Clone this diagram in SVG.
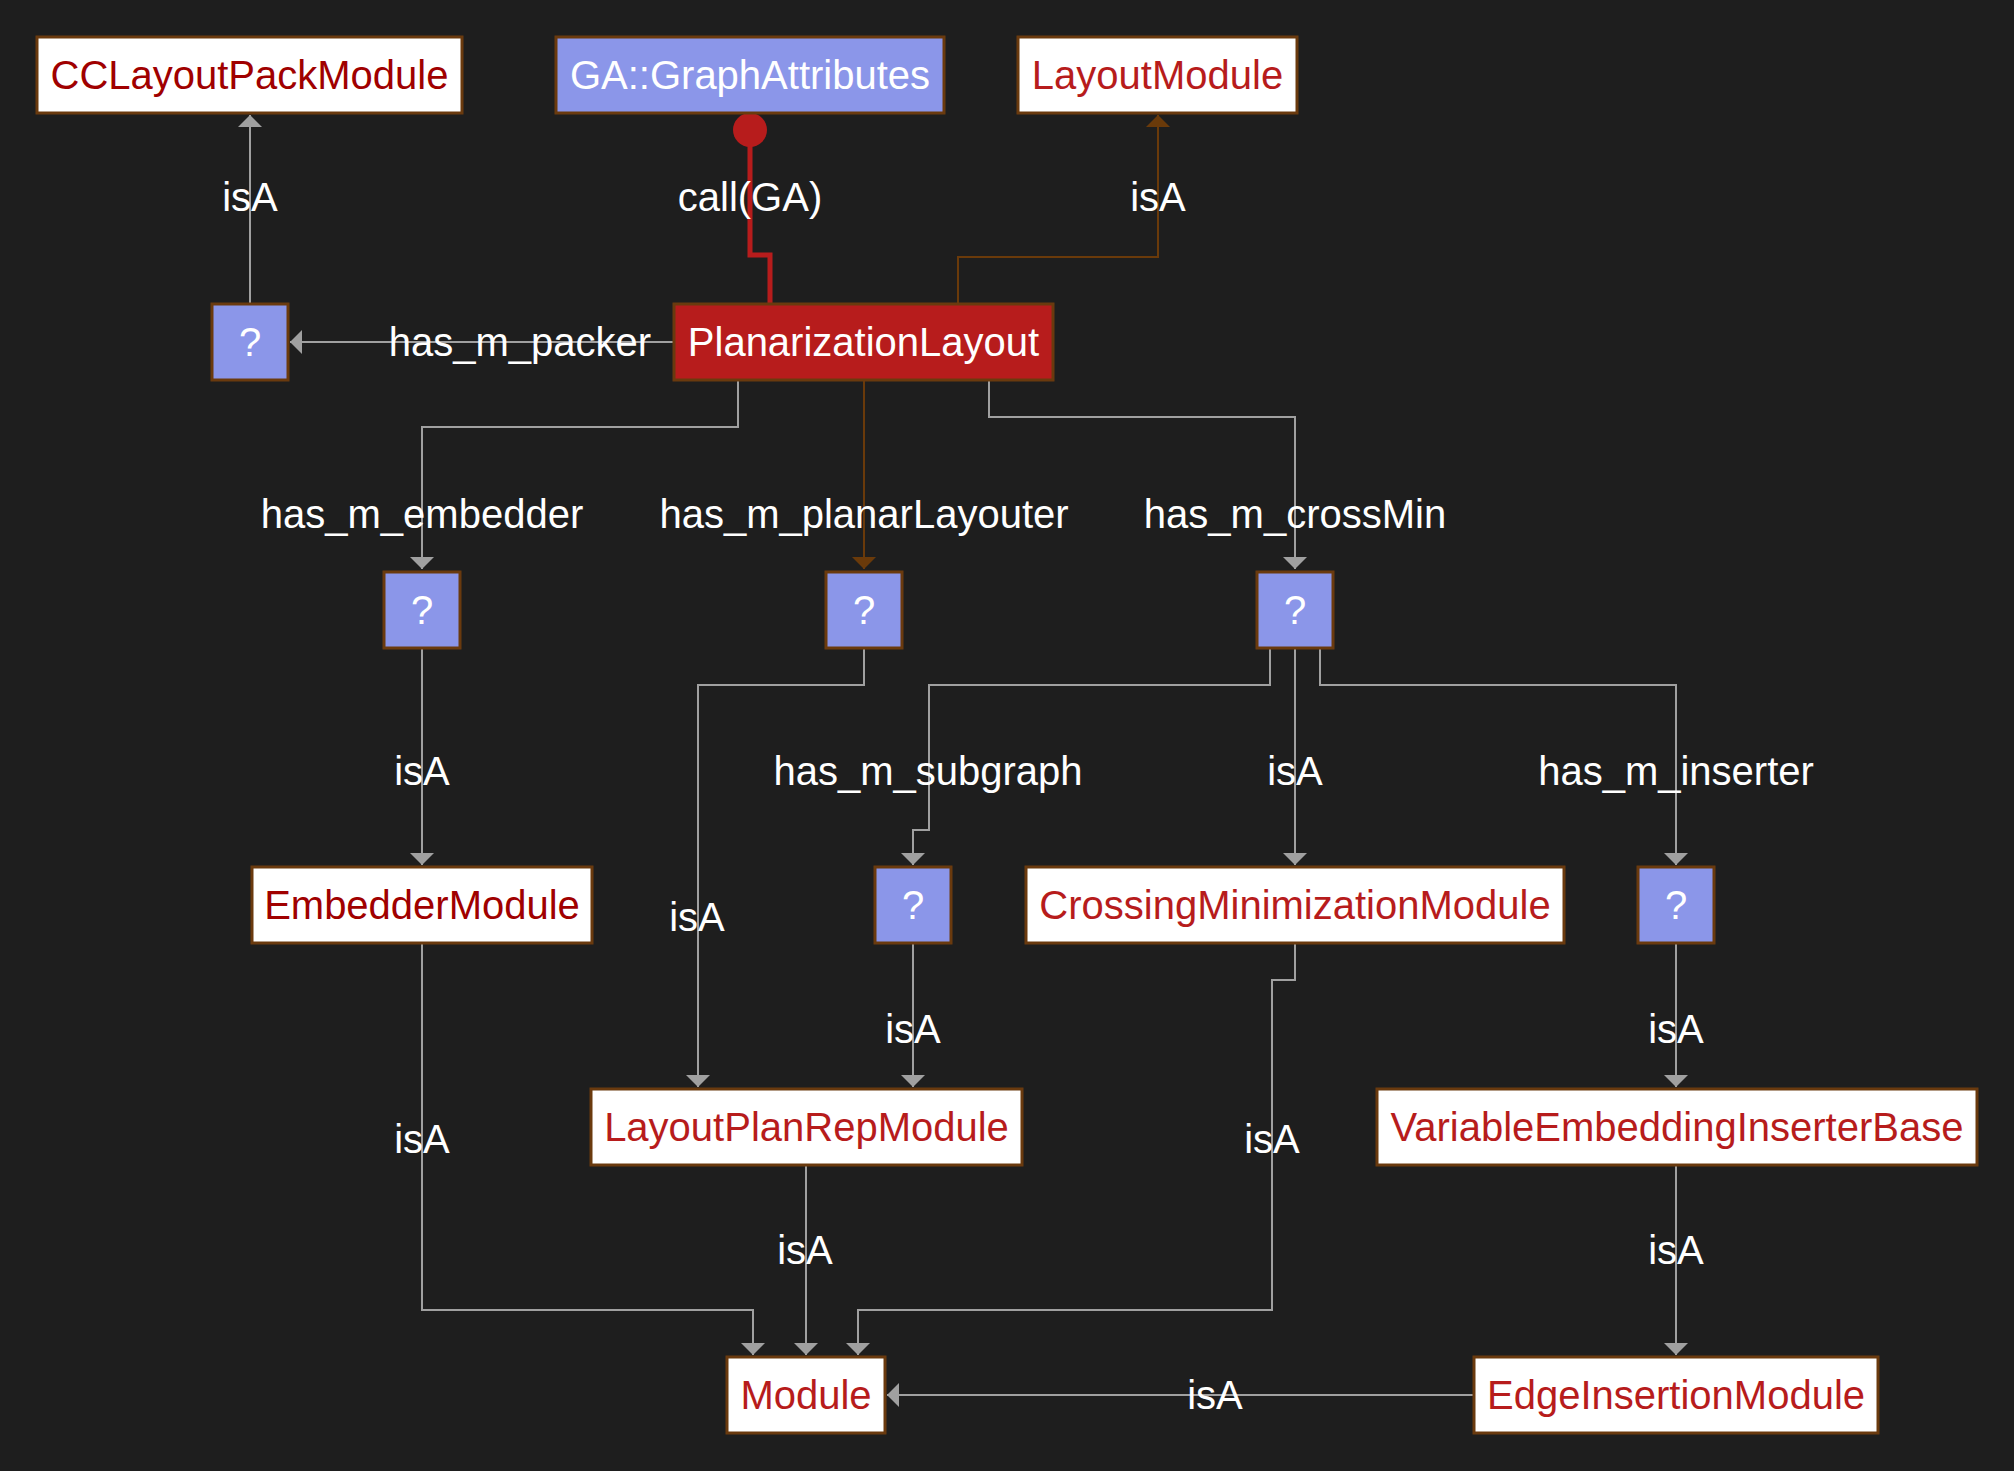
<svg xmlns="http://www.w3.org/2000/svg" width="2014" height="1471" viewBox="0 0 2014 1471">
<style>
text{font-family:"Liberation Sans",Arial,sans-serif;font-size:40px;text-anchor:middle}
.nb rect{stroke:#6a3a0e;stroke-width:3}
.w rect{fill:#ffffff}
.b rect{fill:#8b96e9}
.r rect{fill:#b71c1c}
.w text{fill:#b71c1c}
.w text.d{fill:#a00000}
.b text,.r text{fill:#ffffff}
.e{fill:none;stroke:#a0a0a0;stroke-width:2}
.eb{fill:none;stroke:#6a3a0a;stroke-width:2}
.lbl text{fill:#ffffff}
</style>
<defs>
<marker id="ag" markerUnits="userSpaceOnUse" markerWidth="12" markerHeight="24" refX="12" refY="12" orient="auto"><path d="M0,0 L12,12 L0,24 z" fill="#a0a0a0"/></marker>
<marker id="ab" markerUnits="userSpaceOnUse" markerWidth="12" markerHeight="24" refX="12" refY="12" orient="auto"><path d="M0,0 L12,12 L0,24 z" fill="#6a3a0a"/></marker>
</defs>
<rect x="0" y="0" width="2014" height="1471" fill="#1e1e1e"/>
<g id="connectors">
<path class="e" d="M250,304 V115" marker-end="url(#ag)"/>
<path class="e" d="M674,342 H290" marker-end="url(#ag)"/>
<path class="e" d="M738,380 V427 H422 V569" marker-end="url(#ag)"/>
<path class="e" d="M989,380 V417 H1295 V569" marker-end="url(#ag)"/>
<path class="e" d="M422,648 V865" marker-end="url(#ag)"/>
<path class="e" d="M864,648 V685 H698 V1087" marker-end="url(#ag)"/>
<path class="e" d="M1270,648 V685 H929 V830 H913 V865" marker-end="url(#ag)"/>
<path class="e" d="M1295,648 V865" marker-end="url(#ag)"/>
<path class="e" d="M1320,648 V685 H1676 V865" marker-end="url(#ag)"/>
<path class="e" d="M913,943 V1087" marker-end="url(#ag)"/>
<path class="e" d="M1676,943 V1087" marker-end="url(#ag)"/>
<path class="e" d="M422,943 V1310 H753 V1355" marker-end="url(#ag)"/>
<path class="e" d="M806,1165 V1355" marker-end="url(#ag)"/>
<path class="e" d="M1295,943 V980 H1272 V1310 H858 V1355" marker-end="url(#ag)"/>
<path class="e" d="M1676,1165 V1355" marker-end="url(#ag)"/>
<path class="e" d="M1474,1395 H887" marker-end="url(#ag)"/>
<path class="eb" d="M958,304 V257 H1158 V115" marker-end="url(#ab)"/>
<path class="eb" d="M864,380 V569" marker-end="url(#ab)"/>
<circle cx="750" cy="130" r="17" fill="#b71c1c"/>
<path d="M750,140 V255 H770 V304" fill="none" stroke="#b71c1c" stroke-width="5"/>
<g class="lbl">
<text x="250" y="211">isA</text>
<text x="750" y="211">call(GA)</text>
<text x="1158" y="211">isA</text>
<text x="520" y="356">has_m_packer</text>
<text x="422" y="528">has_m_embedder</text>
<text x="864" y="528">has_m_planarLayouter</text>
<text x="1295" y="528">has_m_crossMin</text>
<text x="422" y="785">isA</text>
<text x="928" y="785">has_m_subgraph</text>
<text x="1295" y="785">isA</text>
<text x="1676" y="785">has_m_inserter</text>
<text x="697" y="931">isA</text>
<text x="913" y="1043">isA</text>
<text x="1676" y="1043">isA</text>
<text x="422" y="1153">isA</text>
<text x="1272" y="1153">isA</text>
<text x="805" y="1264">isA</text>
<text x="1676" y="1264">isA</text>
<text x="1215" y="1409">isA</text>
</g>
</g>
<g id="n_cclayoutpack" class="nb w"><rect x="37" y="37" width="425" height="76"/><text class="d" x="249.5" y="89">CCLayoutPackModule</text></g>
<g id="n_ga" class="nb b"><rect x="556" y="37" width="388" height="76"/><text x="750" y="89">GA::GraphAttributes</text></g>
<g id="n_layoutmodule" class="nb w"><rect x="1018" y="37" width="279" height="76"/><text x="1157.5" y="89">LayoutModule</text></g>
<g id="n_planarization" class="nb r"><rect x="674" y="304" width="379" height="76"/><text x="863.5" y="356">PlanarizationLayout</text></g>
<g id="n_q_packer" class="nb b"><rect x="212" y="304" width="76" height="76"/><text x="250" y="356">?</text></g>
<g id="n_q_embedder" class="nb b"><rect x="384" y="572" width="76" height="76"/><text x="422" y="624">?</text></g>
<g id="n_q_planar" class="nb b"><rect x="826" y="572" width="76" height="76"/><text x="864" y="624">?</text></g>
<g id="n_q_crossmin" class="nb b"><rect x="1257" y="572" width="76" height="76"/><text x="1295" y="624">?</text></g>
<g id="n_embeddermodule" class="nb w"><rect x="252" y="867" width="340" height="76"/><text class="d" x="422" y="919">EmbedderModule</text></g>
<g id="n_q_subgraph" class="nb b"><rect x="875" y="867" width="76" height="76"/><text x="913" y="919">?</text></g>
<g id="n_crossingmin" class="nb w"><rect x="1026" y="867" width="538" height="76"/><text x="1295" y="919">CrossingMinimizationModule</text></g>
<g id="n_q_inserter" class="nb b"><rect x="1638" y="867" width="76" height="76"/><text x="1676" y="919">?</text></g>
<g id="n_layoutplanrep" class="nb w"><rect x="591" y="1089" width="431" height="76"/><text x="806.5" y="1141">LayoutPlanRepModule</text></g>
<g id="n_varembins" class="nb w"><rect x="1377" y="1089" width="600" height="76"/><text x="1677" y="1141">VariableEmbeddingInserterBase</text></g>
<g id="n_module" class="nb w"><rect x="727" y="1357" width="158" height="76"/><text x="806" y="1409">Module</text></g>
<g id="n_edgeinsertion" class="nb w"><rect x="1474" y="1357" width="404" height="76"/><text x="1676" y="1409">EdgeInsertionModule</text></g>
</svg>
